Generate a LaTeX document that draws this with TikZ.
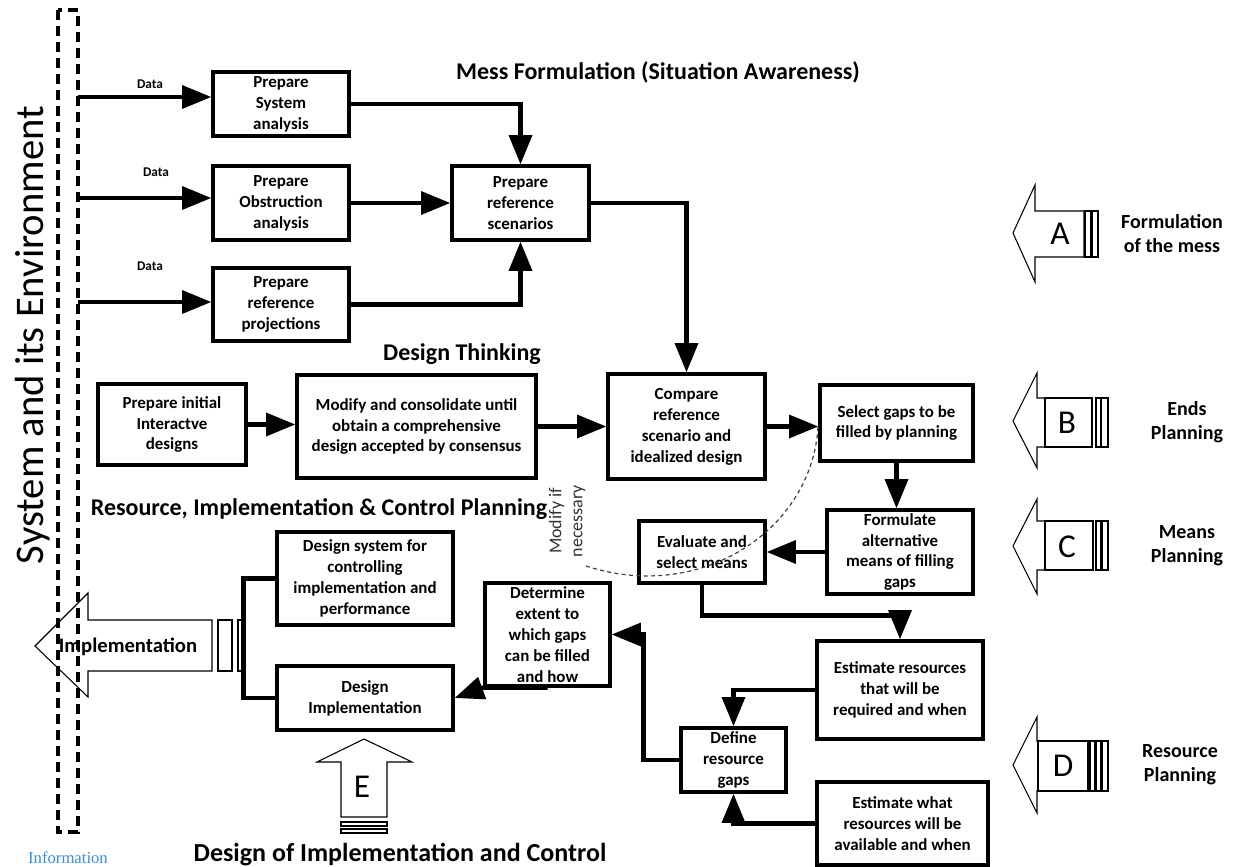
\documentclass[tikz,border=0pt]{standalone}
\usepackage{fontspec}
\setmainfont{Carlito}
\newfontfamily\infofont{Liberation Serif}
\usetikzlibrary{arrows.meta,fit,calc}
\definecolor{infoblue}{RGB}{58,140,220}
\newcommand\mkbox[4]{\node[box, fit={#2 #3}] (#1) {}; \node[txt] (#1-t) at (#1.center) {#4};}
\begin{document}
\begin{tikzpicture}[x=0.75pt,y=-0.75pt,
  box/.style={draw, line width=2.4pt, inner sep=0pt},
  txt/.style={align=center, font=\bfseries\fontsize{12.7}{15.7}\selectfont, inner sep=0pt},
  conn/.style={line width=3.4pt, -{Triangle[length=22pt,width=17pt]}},
  link/.style={line width=3.4pt},
  title/.style={font=\bfseries\fontsize{18}{21}\selectfont, inner sep=0pt},
  side/.style={align=center, font=\bfseries\fontsize{15}{18}\selectfont, inner sep=0pt},
  datal/.style={font=\bfseries\fontsize{10}{12}\selectfont, inner sep=0pt},
  hollow/.style={draw, line width=0.8pt, line join=miter},
  boxed/.style={draw, line width=1.4pt},
  letter/.style={font=\fontsize{25}{30}\selectfont, inner sep=0pt},
  frame/.style={line width=2.3pt, dash pattern=on 7.5pt off 4.5pt},
  dcurve/.style={line width=0.9pt, dash pattern=on 3pt off 2.5pt, black!75}
]
\useasboundingbox (0,0) rectangle (1233,867);

% environment frame
\draw[frame] (58,10) rectangle (78,832);
\node[rotate=90, font=\fontsize{30.5}{36}\selectfont, inner sep=0pt] (env) at (33,335) {System and its Environment};

% boxes
\mkbox{sys}{(213,72)}{(349,136)}{Prepare\\System\\analysis}
\mkbox{obs}{(213,166)}{(349,240)}{Prepare\\Obstruction\\analysis}
\mkbox{proj}{(213,268)}{(349,341)}{Prepare\\reference\\projections}
\mkbox{ref}{(452,166)}{(589,240)}{Prepare\\reference\\scenarios}
\mkbox{init}{(98,384)}{(246,465)}{Prepare initial\\Interactve\\designs}
\mkbox{mod}{(297,375)}{(536,478)}{Modify and consolidate until\\obtain a comprehensive\\design accepted by consensus}
\mkbox{cmp}{(608,374)}{(765,479)}{Compare\\reference\\scenario and\\idealized design}
\mkbox{sel}{(820,385)}{(973,461)}{Select gaps to be\\filled by planning}
\mkbox{form}{(827,510)}{(973,594)}{Formulate\\alternative\\means of filling\\gaps}
\mkbox{eval}{(639,521)}{(765,583)}{Evaluate and\\select means}
\mkbox{estr}{(817,641)}{(983,739)}{Estimate resources\\that will be\\required and when}
\mkbox{esta}{(817,782)}{(988,865)}{Estimate what\\resources will be\\available and when}
\mkbox{gaps}{(681,728)}{(786,792)}{Define\\resource\\gaps}
\mkbox{det}{(485,583)}{(610,686)}{Determine\\extent to\\which gaps\\can be filled\\and how}
\mkbox{ctrl}{(277,532)}{(453,625)}{Design system for\\controlling\\implementation and\\performance}
\mkbox{impl}{(277,666)}{(453,730)}{Design\\Implementation}

% titles
\node[title] (t1) at (658,72) {Mess Formulation (Situation Awareness)};
\node[title] (t2) at (462,354) {Design Thinking};
\node[title] (t3) at (319,509) {Resource, Implementation \& Control Planning};
\node[title, font=\bfseries\fontsize{19.5}{22}\selectfont] (t4) at (400,855) {Design of Implementation and Control};

% data inputs
\coordinate (d1) at (78,97);
\coordinate (d2) at (78,198);
\coordinate (d3) at (78,302);
\draw[conn] (d1) -- (d1 -| sys.west);
\draw[conn] (d2) -- (d2 -| obs.west);
\draw[conn] (d3) -- (d3 -| proj.west);
\node[datal] (dl1) at (150,84) {Data};
\node[datal] (dl2) at (156,172) {Data};
\node[datal] (dl3) at (150,266) {Data};

% connectors
\draw[conn] (sys.east) -| (ref.north);
\draw[conn] (obs.east) -- (ref.west);
\draw[conn] (proj.east) -| (ref.south);
\draw[conn] (ref.east) -| (cmp.north);
\draw[conn] (init.east) -- (init.east -| mod.west);
\draw[conn] (mod.east) -- (mod.east -| cmp.west);
\draw[conn] (cmp.east) -- (cmp.east -| sel.west);
\draw[conn] (sel.south) -- (sel.south |- form.north);
\draw[conn] (form.west) -- (form.west -| eval.east);
\draw[conn] (eval.south) -- ++(0,31) -| (estr.north);
\draw[conn] (estr.west) -| (gaps.north);
\draw[conn] (esta.west) -| (gaps.south);
\draw[conn] (gaps.west) -- ++(-36,0) |- (det.east);
\draw[conn] (det.south) -- (det.south west) -- (impl.east);
\draw[link] (ctrl.west) -- ++(-32,0) |- (impl.west);

% modify if necessary
\draw[dcurve] (818,427) .. controls (812,530) and (700,605) .. (583,565);
\node[rotate=90, align=center, font=\fontsize{13.5}{15.8}\selectfont, inner sep=0pt, text=black!80] (modn) at (567,521) {Modify if\\necessary};

% implementation arrow
\draw[hollow] (35,646) -- (88,593) -- (88,620) -- (212,620) -- (212,671) -- (88,671) -- (88,697) -- cycle;
\draw[hollow] (218,620) rectangle (232,671);
\draw[hollow] (238,620) rectangle (245,671);
\node[font=\bfseries\fontsize{15.5}{18}\selectfont, inner sep=0pt] (implt) at (128,647) {Implementation};

% E arrow
\draw[hollow] (364,739) -- (412,762) -- (387,762) -- (387,817) -- (341,817) -- (341,762) -- (317,762) -- cycle;
\draw[hollow] (341,822) rectangle (387,826);
\draw[hollow] (341,829) rectangle (387,833);
\node[letter] (E) at (362,787) {E};

% A arrow
\draw[hollow] (1013,233) -- (1035,185) -- (1035,211) -- (1084,211) -- (1084,257) -- (1035,257) -- (1035,282) -- cycle;
\draw[hollow] (1085,211) rectangle (1091,257);
\draw[hollow] (1092,211) rectangle (1098,257);
\node[letter] (A) at (1060,234) {A};
\node[side] (As) at (1172,234) {Formulation\\of the mess};

% B arrow
\draw[hollow] (1013,421) -- (1037,373) -- (1037,398) -- (1092,398) -- (1092,447) -- (1037,447) -- (1037,468) -- cycle;
\draw[boxed] (1045,398) rectangle (1092,447);
\draw[hollow] (1096,398) rectangle (1101,447);
\draw[hollow] (1101,398) rectangle (1108,447);
\node[letter] (B) at (1067,423) {B};
\node[side] (Bs) at (1187,422) {Ends\\Planning};

% C arrow
\draw[hollow] (1013,546) -- (1037,499) -- (1037,521) -- (1093,521) -- (1093,570) -- (1037,570) -- (1037,594) -- cycle;
\draw[boxed] (1045,521) rectangle (1093,570);
\draw[hollow] (1096,521) rectangle (1101,570);
\draw[hollow] (1102,521) rectangle (1108,570);
\node[letter] (C) at (1067,547) {C};
\node[side] (Cs) at (1187,546) {Means\\Planning};

% D arrow
\draw[hollow] (1013,765) -- (1037,717) -- (1037,741) -- (1088,741) -- (1088,791) -- (1037,791) -- (1037,813) -- cycle;
\draw[boxed] (1038,741) rectangle (1088,791);
\draw[hollow] (1090,741) rectangle (1095,791);
\draw[hollow] (1096,741) rectangle (1101,791);
\draw[hollow] (1102,741) rectangle (1108,791);
\node[letter] (D) at (1063,766) {D};
\node[side] (Ds) at (1180,765) {Resource\\Planning};

\node[font=\infofont\fontsize{12.5}{14}\selectfont, text=infoblue, inner sep=0pt] (info) at (68,858) {Information};
\end{tikzpicture}
\end{document}
